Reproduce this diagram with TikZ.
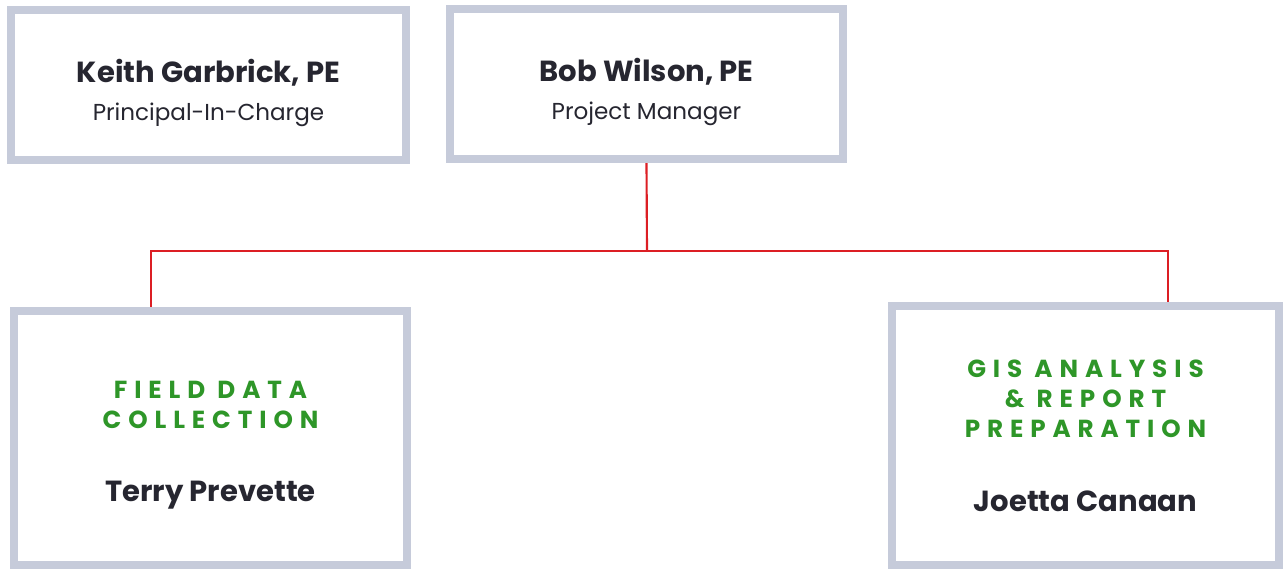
\documentclass[tikz,border=0pt]{standalone}
\usepackage{fontspec}
\setmainfont{Poppins}
\newfontfamily\capsfont[LetterSpace=28]{Poppins}
\usetikzlibrary{backgrounds}

\definecolor{boxgrey}{RGB}{198,203,218}
\definecolor{linkred}{RGB}{220,30,36}
\definecolor{headgreen}{RGB}{46,150,40}
\definecolor{namegrey}{RGB}{38,38,48}

\tikzset{
  orgbox/.style={draw=boxgrey, line width=6pt, fill=white, inner sep=0pt,
    align=center, text=namegrey, font=\fontsize{15}{22.5}\selectfont},
  link/.style={draw=linkred, line width=1.6pt}
}
\newcommand{\person}[1]{{\fontsize{21.8}{24}\selectfont\bfseries #1}}
\newcommand{\role}[1]{{\fontsize{17.3}{20}\selectfont #1}}
\newcommand{\team}[1]{{\capsfont\fontsize{18.5}{22}\selectfont\bfseries\color{headgreen}#1}}

\begin{document}
\begin{tikzpicture}[x=0.75pt, y=-0.75pt]
\useasboundingbox (0,0) rectangle (1283,569);

% top row
\node[orgbox, minimum width=296pt, minimum height=112.5pt, text height=58pt] (keith) at (208.5, 85)
  {\person{Keith Garbrick, PE}\\[6pt]\role{Principal-In-Charge}};
\node[orgbox, minimum width=295pt, minimum height=112.5pt, text height=58pt] (bob) at (646.5, 84)
  {\person{Bob Wilson, PE}\\[6pt]\role{Project Manager}};

% teams
\node[orgbox, minimum width=295pt, minimum height=190pt, text height=101pt] (field) at (210.5, 438)
  {\team{FIELD DATA}\\\team{COLLECTION}\\[32pt]\person{Terry Prevette}};
\node[orgbox, minimum width=290pt, minimum height=194pt] (gis) at (1085.5, 435.5)
  {\team{GIS ANALYSIS}\\\team{\&\ REPORT}\\\team{PREPARATION}\\[33pt]\person{Joetta Canaan}};

% red reporting lines
\coordinate (hub) at (647, 251);
\coordinate (fielddrop) at (151, 251);
\coordinate (gisdrop) at (1168, 251);
\begin{scope}[on background layer]
  \draw[link] (bob.south) -- (hub);
  \draw[link] (fielddrop |- field.north) -- (fielddrop) -- (gisdrop) -- (gisdrop |- gis.north);
\end{scope}
\end{tikzpicture}
\end{document}
